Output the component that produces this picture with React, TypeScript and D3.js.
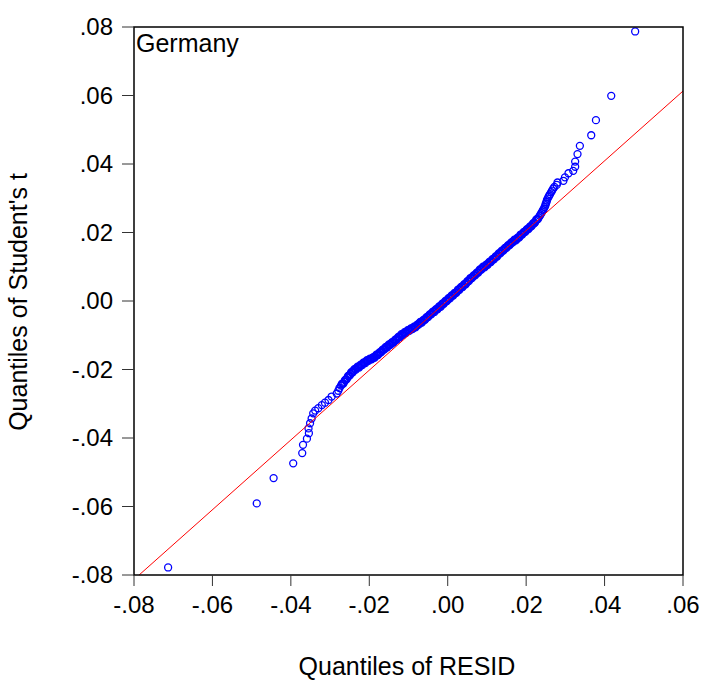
import React from "react";
import * as d3 from "d3";

// quantile pairs: [RESID quantile, Student's t quantile]
const lowerTail: [number, number][] = [
  [-0.0713, -0.0778], [-0.0487, -0.0591], [-0.0444, -0.0517], [-0.0394, -0.0474],
  [-0.0371, -0.0444], [-0.0369, -0.042], [-0.0359, -0.0402], [-0.0354, -0.0386],
  [-0.0355, -0.0372], [-0.0351, -0.0357], [-0.0347, -0.0343], [-0.0343, -0.0328],
  [-0.0338, -0.032], [-0.033, -0.0313], [-0.0321, -0.0304], [-0.0313, -0.0297],
  [-0.0304, -0.0289], [-0.0296, -0.0279], [-0.0283, -0.027], [-0.0279, -0.0262],
  [-0.0276, -0.0254],
];

const centralBody: [number, number][] = [
  [-0.0272, -0.0247], [-0.0268, -0.0241], [-0.0264, -0.0236], [-0.026, -0.023],
  [-0.0256, -0.0224], [-0.0252, -0.0218], [-0.0248, -0.0213], [-0.0244, -0.0208],
  [-0.024, -0.0203], [-0.0236, -0.0199], [-0.0232, -0.0196], [-0.0228, -0.0193],
  [-0.0224, -0.019], [-0.022, -0.0187], [-0.0216, -0.0183], [-0.0212, -0.018],
  [-0.0208, -0.0177], [-0.0204, -0.0174], [-0.02, -0.0171], [-0.0196, -0.0169],
  [-0.0192, -0.0167], [-0.0188, -0.0165], [-0.0184, -0.0161], [-0.018, -0.0158],
  [-0.0176, -0.0154], [-0.0172, -0.015], [-0.0168, -0.0146], [-0.0164, -0.0142],
  [-0.016, -0.0138], [-0.0156, -0.0135], [-0.0152, -0.0131], [-0.0148, -0.0128],
  [-0.0144, -0.0124], [-0.014, -0.0121], [-0.0136, -0.0117], [-0.0132, -0.0113],
  [-0.0128, -0.0109], [-0.0124, -0.0105], [-0.012, -0.0101], [-0.0116, -0.0098],
  [-0.0112, -0.0095], [-0.0108, -0.0092], [-0.0104, -0.0089], [-0.01, -0.0086],
  [-0.0096, -0.0084], [-0.0092, -0.0081], [-0.0088, -0.0079], [-0.0084, -0.0076],
  [-0.008, -0.0073], [-0.0076, -0.0069], [-0.0072, -0.0065], [-0.0068, -0.0062],
  [-0.0064, -0.0059], [-0.006, -0.0055], [-0.0056, -0.0051], [-0.0052, -0.0047],
  [-0.0048, -0.0043], [-0.0044, -0.0039], [-0.004, -0.0035], [-0.0036, -0.0031],
  [-0.0032, -0.0028], [-0.0028, -0.0024], [-0.0024, -0.002], [-0.002, -0.0016],
  [-0.0016, -0.0013], [-0.0012, -0.0008], [-0.0008, -0.0004], [-0.0004, 0.0],
  [0.0, 0.0004], [0.0004, 0.0008], [0.0008, 0.0012], [0.0012, 0.0016],
  [0.0016, 0.002], [0.002, 0.0024], [0.0024, 0.0028], [0.0028, 0.0033],
  [0.0032, 0.0037], [0.0036, 0.0041], [0.004, 0.0045], [0.0044, 0.0049],
  [0.0048, 0.0053], [0.0052, 0.0058], [0.0056, 0.0063], [0.006, 0.0067],
  [0.0064, 0.0071], [0.0068, 0.0075], [0.0072, 0.0079], [0.0076, 0.0083],
  [0.008, 0.0088], [0.0084, 0.0092], [0.0088, 0.0096], [0.0092, 0.0099],
  [0.0096, 0.0102], [0.01, 0.0106], [0.0104, 0.011], [0.0108, 0.0114],
  [0.0112, 0.0118], [0.0116, 0.0122], [0.012, 0.0126], [0.0124, 0.013],
  [0.0128, 0.0134], [0.0132, 0.0139], [0.0136, 0.0143], [0.014, 0.0147],
  [0.0144, 0.0151], [0.0148, 0.0155], [0.0152, 0.0159], [0.0156, 0.0163],
  [0.016, 0.0167], [0.0164, 0.0171], [0.0168, 0.0175], [0.0172, 0.0178],
  [0.0176, 0.0181], [0.018, 0.0185], [0.0184, 0.0189], [0.0188, 0.0194],
  [0.0192, 0.0198], [0.0196, 0.0202], [0.02, 0.0206], [0.0204, 0.021],
  [0.0208, 0.0214], [0.0212, 0.0218], [0.0216, 0.0223], [0.022, 0.0227],
  [0.0224, 0.0233], [0.0228, 0.0238], [0.0232, 0.0244],
];

// the in-between quantiles of the dense part
const centralBodyMid: [number, number][] = [
  [-0.027, -0.0242], [-0.0266, -0.0241], [-0.0262, -0.0231], [-0.0258, -0.0229],
  [-0.0254, -0.0219], [-0.025, -0.0218], [-0.0246, -0.0208], [-0.0242, -0.0208],
  [-0.0238, -0.0199], [-0.0234, -0.02], [-0.023, -0.0192], [-0.0226, -0.0194],
  [-0.0222, -0.0186], [-0.0218, -0.0187], [-0.0214, -0.0179], [-0.021, -0.0181],
  [-0.0206, -0.0173], [-0.0202, -0.0175], [-0.0198, -0.0168], [-0.0194, -0.017],
  [-0.019, -0.0164], [-0.0186, -0.0165], [-0.0182, -0.0157], [-0.0178, -0.0158],
  [-0.0174, -0.015], [-0.017, -0.015], [-0.0166, -0.0142], [-0.0162, -0.0142],
  [-0.0158, -0.0134], [-0.0154, -0.0135], [-0.015, -0.0127], [-0.0146, -0.0128],
  [-0.0142, -0.012], [-0.0138, -0.0121], [-0.0134, -0.0113], [-0.013, -0.0113],
  [-0.0126, -0.0105], [-0.0122, -0.0105], [-0.0118, -0.0097], [-0.0114, -0.0099],
  [-0.011, -0.0091], [-0.0106, -0.0093], [-0.0102, -0.0085], [-0.0098, -0.0087],
  [-0.0094, -0.008], [-0.009, -0.0082], [-0.0086, -0.0075], [-0.0082, -0.0077],
  [-0.0078, -0.0069], [-0.0074, -0.0069], [-0.007, -0.0061], [-0.0066, -0.0063],
  [-0.0062, -0.0055], [-0.0058, -0.0055], [-0.0054, -0.0047], [-0.005, -0.0047],
  [-0.0046, -0.0039], [-0.0042, -0.0039], [-0.0038, -0.0031], [-0.0034, -0.0032],
  [-0.003, -0.0024], [-0.0026, -0.0024], [-0.0022, -0.0016], [-0.0018, -0.0017],
  [-0.0014, -0.0008], [-0.001, -0.0008], [-0.0006, 0.0], [-0.0002, 0.0],
  [0.0002, 0.0008], [0.0006, 0.0008], [0.001, 0.0016], [0.0014, 0.0016],
  [0.0018, 0.0024], [0.0022, 0.0024], [0.0026, 0.0033], [0.003, 0.0033],
  [0.0034, 0.0041], [0.0038, 0.0041], [0.0042, 0.0049], [0.0046, 0.0049],
  [0.005, 0.0058], [0.0054, 0.0058], [0.0058, 0.0067], [0.0062, 0.0067],
  [0.0066, 0.0075], [0.007, 0.0075], [0.0074, 0.0083], [0.0078, 0.0083],
  [0.0082, 0.0092], [0.0086, 0.0092], [0.009, 0.01], [0.0094, 0.0098],
  [0.0098, 0.0106], [0.0102, 0.0106], [0.0106, 0.0114], [0.011, 0.0114],
  [0.0114, 0.0122], [0.0118, 0.0122], [0.0122, 0.013], [0.0126, 0.013],
  [0.013, 0.0139], [0.0134, 0.0139], [0.0138, 0.0147], [0.0142, 0.0147],
  [0.0146, 0.0155], [0.015, 0.0155], [0.0154, 0.0163], [0.0158, 0.0163],
  [0.0162, 0.0171], [0.0166, 0.0171], [0.017, 0.0179], [0.0174, 0.0177],
  [0.0178, 0.0185], [0.0182, 0.0185], [0.0186, 0.0194], [0.019, 0.0194],
  [0.0194, 0.0202], [0.0198, 0.0202], [0.0202, 0.021], [0.0206, 0.021],
  [0.021, 0.0218], [0.0214, 0.0219], [0.0218, 0.0227], [0.0222, 0.0228],
  [0.0226, 0.0238], [0.023, 0.0239],
];

const upperTail: [number, number][] = [
  [0.0235, 0.0249], [0.0237, 0.0253], [0.0239, 0.0257], [0.0241, 0.0261],
  [0.0243, 0.0265], [0.0245, 0.0269], [0.0247, 0.0274], [0.0249, 0.0279],
  [0.025, 0.0284], [0.0252, 0.0289], [0.0253, 0.0294], [0.0255, 0.0299],
  [0.0257, 0.0304], [0.0259, 0.0308], [0.0261, 0.0312], [0.0264, 0.0318],
  [0.0266, 0.0322], [0.0269, 0.0328], [0.0272, 0.0333], [0.0278, 0.0339],
  [0.028, 0.0346], [0.0295, 0.0351], [0.0299, 0.0361], [0.0308, 0.0373],
  [0.032, 0.038], [0.0325, 0.0392], [0.0325, 0.0407], [0.0331, 0.0429],
  [0.0337, 0.0453], [0.0366, 0.0484], [0.0378, 0.0528], [0.0417, 0.0599],
  [0.0478, 0.0787],
];

// reference line through the quantiles
const fitLine: [number, number][] = [[-0.0787, -0.08], [0.06, 0.0613]];

const xTicks = [-0.08, -0.06, -0.04, -0.02, 0, 0.02, 0.04, 0.06];
const yTicks = [-0.08, -0.06, -0.04, -0.02, 0, 0.02, 0.04, 0.06, 0.08];

const width = 701;
const height = 682;
const margin = { top: 27, right: 18, bottom: 107, left: 134 };
const font = "'Liberation Sans', Arial, sans-serif";

const fmt = (v: number) =>
  d3.format(".2f")(v).replace("\u2212", "-").replace("0.", ".");

const App = () => {
  const x = d3
    .scaleLinear()
    .domain([-0.08, 0.06])
    .range([margin.left, width - margin.right]);
  const y = d3
    .scaleLinear()
    .domain([-0.08, 0.08])
    .range([height - margin.bottom, margin.top]);

  const points = [...lowerTail, ...centralBody, ...centralBodyMid, ...upperTail];
  const line = d3
    .line<[number, number]>()
    .x((d) => x(d[0]))
    .y((d) => y(d[1]));

  const x0 = x.range()[0];
  const x1 = x.range()[1];
  const yb = y.range()[0];
  const yt = y.range()[1];

  return (
    <svg
      width={width}
      height={height}
      style={{ position: "absolute", left: 0, top: 0, background: "#fff" }}
      fontFamily={font}
    >
      <g>
        {points.map((d, i) => (
          <circle
            key={i}
            cx={x(d[0])}
            cy={y(d[1])}
            r={3.5}
            fill="none"
            stroke="#0000ff"
            strokeWidth={1.3}
          />
        ))}
      </g>
      <path d={line(fitLine) || ""} stroke="#ff0000" strokeWidth={1} fill="none" />

      <rect
        x={x0}
        y={yt}
        width={x1 - x0}
        height={yb - yt}
        fill="none"
        stroke="#000"
        strokeWidth={1.5}
      />

      {xTicks.map((t) => (
        <g key={"x" + t}>
          <line x1={x(t)} x2={x(t)} y1={yb} y2={yb + 11} stroke="#333" strokeWidth={1} />
          <text x={x(t)} y={613} textAnchor="middle" fontSize={24} fill="#000">
            {fmt(t)}
          </text>
        </g>
      ))}
      {yTicks.map((t) => (
        <g key={"y" + t}>
          <line x1={x0 - 12} x2={x0} y1={y(t)} y2={y(t)} stroke="#333" strokeWidth={1} />
          <text x={113} y={y(t)} dy="0.35em" textAnchor="end" fontSize={24} fill="#000">
            {fmt(t)}
          </text>
        </g>
      ))}

      <text x={136} y={52} fontSize={25} fill="#000">
        Germany
      </text>
      <text x={407} y={675} textAnchor="middle" fontSize={25} fill="#000">
        Quantiles of RESID
      </text>
      <text
        transform="translate(27,302) rotate(-90)"
        textAnchor="middle"
        fontSize={25}
        fill="#000"
      >
        Quantiles of Student's t
      </text>
    </svg>
  );
};

export default App;
